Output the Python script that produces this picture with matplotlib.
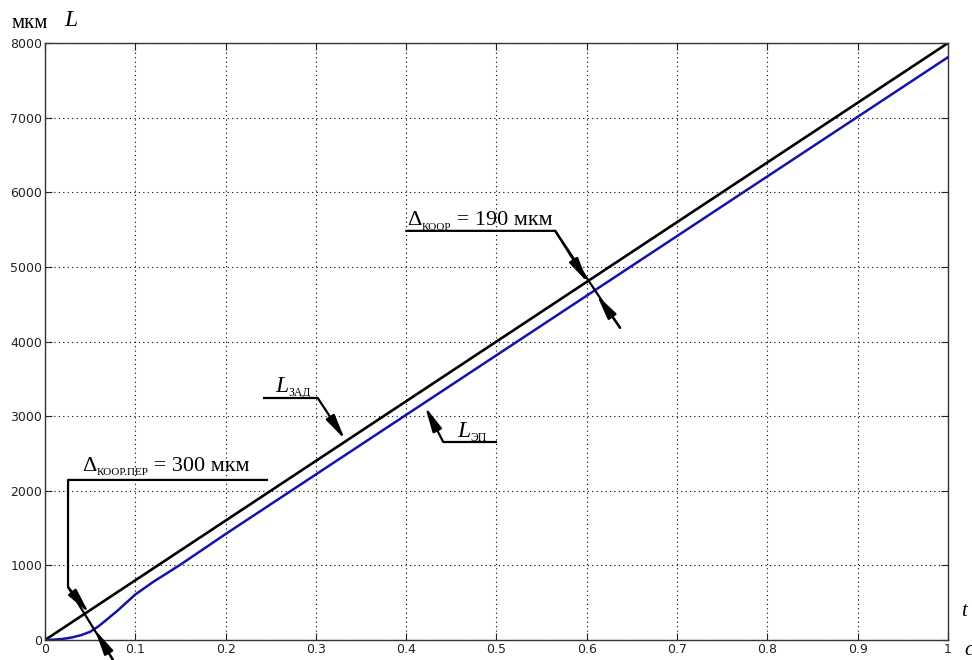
import numpy as np
import matplotlib.pyplot as plt
from matplotlib.transforms import offset_copy

# заданное перемещение и отработка электропривода
t_zad = [0.0, 1.0]
L_zad = [0, 8000]

t_ep = [0.0, 0.01, 0.02, 0.03, 0.04, 0.05, 0.06, 0.07, 0.08, 0.09, 0.10,
        0.12, 0.15, 0.20, 1.0]
L_ep = [0, 5, 15, 35, 65, 110, 190, 290, 390, 500, 610,
        780, 1010, 1420, 7810]

x_ticks = [0, 0.1, 0.2, 0.3, 0.4, 0.5, 0.6, 0.7, 0.8, 0.9, 1]
x_labels = ['0', '0.1', '0.2', '0.3', '0.4', '0.5', '0.6', '0.7', '0.8', '0.9', '1']
y_ticks = [0, 1000, 2000, 3000, 4000, 5000, 6000, 7000, 8000]

SERIF = 'Liberation Serif'

fig = plt.figure(figsize=(9.72, 6.6), dpi=100)
ax = fig.add_axes([0.0463, 0.0303, 0.929, 0.9045])

ax.plot(t_zad, L_zad, color='black', lw=1.9)
ax.plot(t_ep, L_ep, color='#1414aa', lw=1.8)

ax.set_xlim(0, 1)
ax.set_ylim(0, 8000)
ax.set_xticks(x_ticks)
ax.set_xticklabels(x_labels)
ax.set_yticks(y_ticks)
ax.grid(True, color='black', linestyle=(0, (1, 3)), linewidth=0.8)
ax.tick_params(direction='in', top=True, right=True, length=5, labelsize=9,
               colors='#222222', pad=2)
for s in ax.spines.values():
    s.set_color('#333333')
    s.set_linewidth(1.0)

renderer = fig.canvas.get_renderer()


def rich_text(x, y, parts):
    """Пишет строку из кусков (текст, размер, курсив, сдвиг вниз в pt)."""
    dx = 0.0
    for s, size, italic, dy in parts:
        tr = offset_copy(ax.transData, fig=fig, x=dx, y=-dy, units='points')
        t = ax.text(x, y, s, transform=tr, family=SERIF, fontsize=size,
                    style='italic' if italic else 'normal', va='baseline',
                    clip_on=False)
        w = t.get_window_extent(renderer).width
        dx += w * 72.0 / fig.dpi


arr = dict(arrowstyle='-|>,head_length=1.5,head_width=0.3', color='black',
           lw=1.6, shrinkA=0, shrinkB=0)
lead = dict(color='black', lw=1.6, clip_on=False, solid_capstyle='butt')

# Δ коорд. = 190 мкм
ax.plot([0.399, 0.565, 0.637], [5483, 5483, 4182], **lead)
ax.annotate('', xy=(0.601, 4790), xytext=(0.565, 5483), arrowprops=arr)
ax.annotate('', xy=(0.611, 4625), xytext=(0.637, 4182), arrowprops=arr,
            annotation_clip=False)
rich_text(0.401, 5555, [('Δ', 16, False, 0), ('КООР', 8, False, 3),
                        (' = 190 мкм', 16, False, 0)])

# L зад
ax.plot([0.241, 0.302], [3244, 3244], **lead)
ax.annotate('', xy=(0.332, 2690), xytext=(0.302, 3244), arrowprops=arr)
rich_text(0.255, 3320, [('L', 17, True, 0), ('ЗАД', 8.5, False, 3)])

# L эп
ax.plot([0.441, 0.501], [2654, 2654], **lead)
ax.annotate('', xy=(0.421, 3125), xytext=(0.441, 2654), arrowprops=arr)
rich_text(0.457, 2725, [('L', 17, True, 0), ('ЭП', 8.5, False, 3)])

# Δ коорд. пер. = 300 мкм
ax.plot([0.247, 0.0255, 0.0255, 0.0753], [2145, 2145, 710, -268], **lead)
ax.annotate('', xy=(0.0487, 362), xytext=(0.0255, 710), arrowprops=arr)
ax.annotate('', xy=(0.0554, 134), xytext=(0.0753, -268), arrowprops=arr,
            annotation_clip=False)
rich_text(0.041, 2270, [('Δ', 16, False, 0), ('КООР.ПЕР', 8, False, 3),
                        (' = 300 мкм', 16, False, 0)])

# подписи осей
fig.text(0.012, 0.965, 'мкм', family=SERIF, fontsize=15, va='center')
fig.text(0.066, 0.969, 'L', family=SERIF, style='italic', fontsize=17,
         va='center')
fig.text(0.989, 0.073, 't', family=SERIF, style='italic', fontsize=15,
         va='center')
fig.text(0.992, 0.015, 'с', family=SERIF, style='italic', fontsize=15,
         va='center')

fig.savefig('out.png', dpi=100)
